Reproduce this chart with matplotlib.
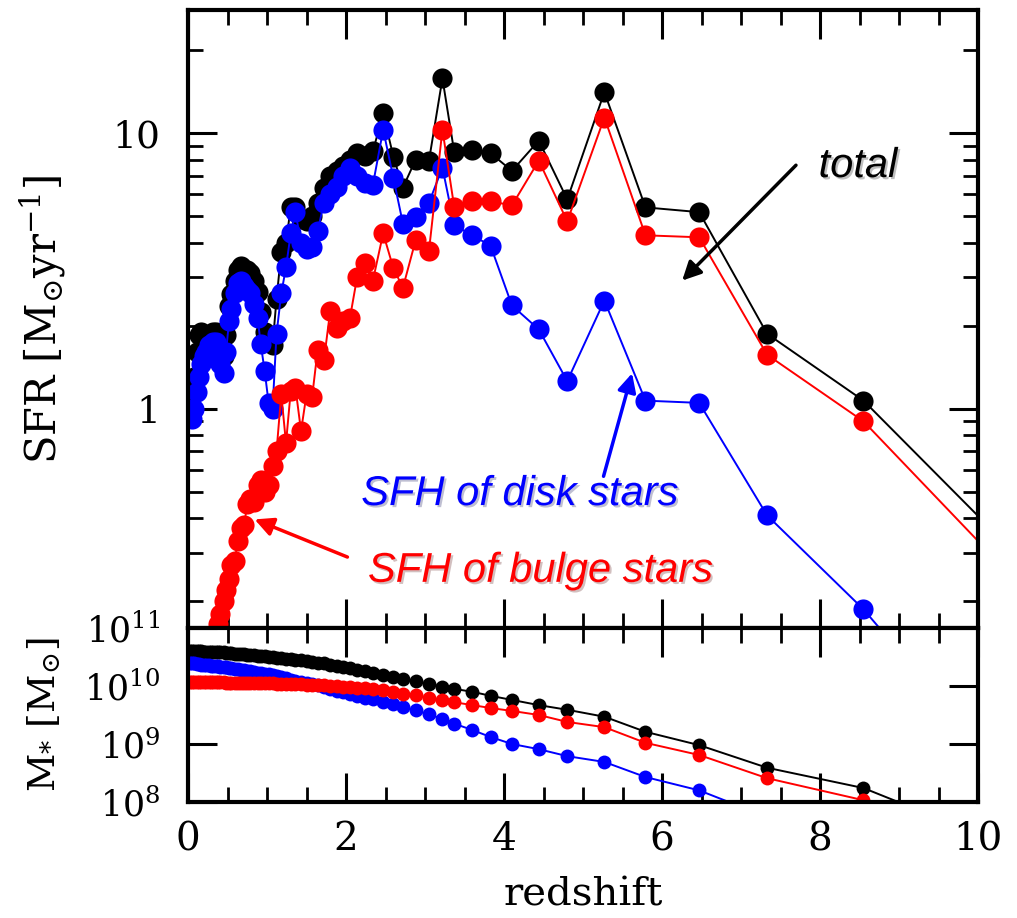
import numpy as np
import matplotlib
matplotlib.use("Agg")
import matplotlib.pyplot as plt
from matplotlib.ticker import FixedLocator, MultipleLocator, LogLocator, NullFormatter, FuncFormatter
import matplotlib.patheffects as pe

plt.rcParams['font.family'] = 'DejaVu Serif'
plt.rcParams['mathtext.fontset'] = 'dejavuserif'

# snapshot redshifts (first one lies beyond the plotted range)
redshift = [11.0, 8.55, 7.33, 6.47, 5.79, 5.27, 4.80, 4.44, 4.10, 3.83,
            3.60, 3.37, 3.22, 3.05, 2.88, 2.72, 2.60, 2.47, 2.34, 2.24,
            2.14, 2.05, 1.96, 1.88, 1.80, 1.72, 1.64, 1.57, 1.50, 1.43,
            1.36, 1.30, 1.24, 1.18, 1.12, 1.07, 1.02, 0.97, 0.92, 0.88,
            0.83, 0.79, 0.75, 0.71, 0.67, 0.63, 0.59, 0.55, 0.52, 0.48,
            0.45, 0.41, 0.38, 0.35, 0.32, 0.29, 0.26, 0.23, 0.20, 0.17,
            0.14, 0.11, 0.08, 0.05, 0.03, 0.0]

# star formation rates [Msun/yr]
sfr_total = [0.21, 1.07, 1.87, 5.17, 5.38, 14.1, 5.75, 9.4, 7.3, 8.46,
             8.67, 8.53, 15.8, 7.96, 8.0, 6.35, 8.2, 11.8, 8.6, 8.3,
             8.5, 8.0, 7.6, 7.3, 7.0, 6.3, 5.6, 5.0, 4.8, 4.9,
             5.4, 5.4, 4.0, 3.7, 2.5, 1.7, 1.75, 1.9, 2.25, 2.65,
             2.9, 3.1, 3.2, 3.2, 3.3, 3.2, 2.9, 2.6, 2.35, 1.85,
             1.55, 1.65, 1.8, 1.9, 1.9, 1.8, 1.85, 1.8, 1.85, 1.9,
             1.85, 1.6, 1.3, 1.15, 1.05, 1.1]
sfr_disk = [0.028, 0.187, 0.41, 1.05, 1.07, 2.47, 1.26, 1.94, 2.37, 3.9,
            4.26, 4.63, 7.5, 5.6, 4.95, 4.7, 6.86, 10.3, 6.5, 6.6,
            7.0, 7.5, 7.0, 6.4, 6.0, 5.6, 4.4, 3.85, 3.8, 4.0,
            5.16, 4.33, 3.26, 2.62, 1.87, 1.0, 1.05, 1.37, 1.72, 2.14,
            2.4, 2.62, 2.7, 2.8, 2.92, 2.85, 2.62, 2.3, 2.09, 1.6,
            1.35, 1.45, 1.6, 1.75, 1.75, 1.65, 1.7, 1.6, 1.55, 1.45,
            1.3, 1.15, 1.0, 0.92, 0.93, 1.0]
sfr_bulge = [0.166, 0.90, 1.57, 4.19, 4.26, 11.4, 4.79, 7.95, 5.47, 5.66,
             5.66, 5.38, 10.3, 3.75, 4.08, 2.75, 3.23, 4.33, 2.92, 3.37,
             3.0, 2.14, 2.09, 1.97, 2.27, 1.5, 1.63, 1.1, 1.13, 0.83,
             1.19, 1.16, 0.75, 1.13, 0.70, 0.62, 0.53, 0.5, 0.55, 0.53,
             0.46, 0.47, 0.45, 0.38, 0.37, 0.33, 0.28, 0.27, 0.24, 0.22,
             0.2, 0.18, 0.165, np.nan, np.nan, np.nan, np.nan, np.nan, np.nan, np.nan,
             np.nan, np.nan, np.nan, np.nan, np.nan, np.nan]

# log10 stellar mass [Msun]
logm_total = [6.9, 8.24, 8.59, 8.98, 9.21, 9.47, 9.59, 9.67, 9.76, 9.83,
              9.90, 9.95, 9.99, 10.04, 10.08, 10.12, 10.15, 10.19, 10.22, 10.25,
              10.28, 10.31, 10.33, 10.35, 10.37, 10.39, 10.40, 10.42, 10.43, 10.44,
              10.45, 10.46, 10.47, 10.48, 10.49, 10.50, 10.50, 10.51, 10.52, 10.52,
              10.53, 10.54, 10.54, 10.55, 10.55, 10.56, 10.56, 10.57, 10.57, 10.57,
              10.58, 10.58, 10.58, 10.58, 10.59, 10.59, 10.59, 10.59, 10.59, 10.60,
              10.60, 10.60, 10.60, 10.60, 10.60, 10.60]
logm_disk = [7.0, 7.4, 7.74, 8.20, 8.43, 8.69, 8.79, 8.91, 9.00, 9.12,
             9.24, 9.35, 9.43, 9.51, 9.58, 9.64, 9.69, 9.73, 9.77, 9.80,
             9.83, 9.86, 9.89, 9.92, 9.95, 9.98, 10.01, 10.03, 10.05, 10.07,
             10.09, 10.11, 10.13, 10.15, 10.17, 10.19, 10.20, 10.21, 10.22, 10.23,
             10.24, 10.25, 10.26, 10.27, 10.28, 10.29, 10.30, 10.31, 10.31, 10.32,
             10.33, 10.33, 10.34, 10.34, 10.35, 10.35, 10.36, 10.36, 10.37, 10.37,
             10.38, 10.38, 10.39, 10.39, 10.40, 10.40]
logm_bulge = [7.5, 8.03, 8.41, 8.81, 9.02, 9.29, 9.38, 9.50, 9.57, 9.62,
              9.67, 9.72, 9.76, 9.80, 9.84, 9.87, 9.90, 9.93, 9.95, 9.96,
              9.97, 9.98, 9.99, 10.00, 10.00, 10.01, 10.01, 10.02, 10.02, 10.03,
              10.03, 10.03, 10.04, 10.04, 10.04, 10.05, 10.05, 10.05, 10.05, 10.06,
              10.06, 10.06, 10.06, 10.06, 10.06, 10.06, 10.06, 10.06, 10.06, 10.06,
              10.07, 10.07, 10.07, 10.07, 10.07, 10.07, 10.07, 10.07, 10.07, 10.07,
              10.07, 10.07, 10.07, 10.07, 10.07, 10.07]

z = np.array(redshift)

fig = plt.figure(figsize=(10.17, 9.18), dpi=100)
ax1 = fig.add_axes([0.1849, 0.3159, 0.7768, 0.6732])
ax2 = fig.add_axes([0.1849, 0.1264, 0.7768, 0.1895])

for ax in (ax1, ax2):
    for s in ax.spines.values():
        s.set_linewidth(3)
    ax.tick_params(which='both', direction='in', top=True, right=True, colors='black')
    ax.tick_params(which='major', length=21, width=2.2)
    ax.tick_params(which='minor', length=11, width=2.0)
    ax.set_xlim(0, 10)
    ax.xaxis.set_major_locator(MultipleLocator(2))
    ax.xaxis.set_minor_locator(MultipleLocator(0.5))
    ax.set_yscale('log')

# top panel: SFR
ax1.plot(z, sfr_total, 'o-', color='black', ms=14.5, mew=0, lw=1.4)
ax1.plot(z, sfr_disk, 'o-', color='blue', ms=14.5, mew=0, lw=1.4)
ax1.plot(z, sfr_bulge, 'o-', color='red', ms=14.5, mew=0, lw=1.4)
ax1.set_ylim(0.16, 28)
ax1.yaxis.set_major_locator(FixedLocator([1, 10]))
ax1.yaxis.set_minor_locator(LogLocator(base=10, subs=np.arange(2, 10)))
ax1.yaxis.set_major_formatter(FuncFormatter(lambda v, p: '%d' % v))
ax1.yaxis.set_minor_formatter(NullFormatter())
ax1.tick_params(axis='y', labelsize=27, pad=20)
ax1.tick_params(axis='x', labelbottom=False)
ax1.set_ylabel(r'SFR [M$_{\odot}$yr$^{-1}$]', fontsize=30)
ax1.yaxis.set_label_coords(-0.152, 0.5)

# annotations
shadow = [pe.SimplePatchShadow(offset=(1.5, -1.5), alpha=0.25), pe.Normal()]
tfont = dict(family='Liberation Sans', style='italic', fontsize=30, ha='center', va='center')
ax1.text(8.48, 7.6, 'total', color='black', path_effects=shadow, **tfont)
ax1.text(4.2, 0.49, 'SFH of disk stars', color='blue', path_effects=shadow, **tfont)
ax1.text(4.46, 0.258, 'SFH of bulge stars', color='red', path_effects=shadow, **tfont)
ax1.annotate('', xy=(6.23, 2.87), xytext=(7.72, 7.78),
             arrowprops=dict(arrowstyle='-|>', color='black', lw=2.5, mutation_scale=28))
ax1.annotate('', xy=(5.63, 1.375), xytext=(5.25, 0.556),
             arrowprops=dict(arrowstyle='-|>', color='blue', lw=2.5, mutation_scale=28))
ax1.annotate('', xy=(0.81, 0.40), xytext=(2.05, 0.287),
             arrowprops=dict(arrowstyle='-|>', color='red', lw=2.5, mutation_scale=28))

# bottom panel: stellar mass
ax2.plot(z, 10 ** np.array(logm_total), 'o-', color='black', ms=10, mew=0, lw=1.4)
ax2.plot(z, 10 ** np.array(logm_disk), 'o-', color='blue', ms=10, mew=0, lw=1.4)
ax2.plot(z, 10 ** np.array(logm_bulge), 'o-', color='red', ms=10, mew=0, lw=1.4)
ax2.set_ylim(1e8, 1e11)
ax2.yaxis.set_major_locator(FixedLocator([1e8, 1e9, 1e10, 1e11]))
ax2.yaxis.set_minor_locator(LogLocator(base=10, subs=np.arange(2, 10)))
ax2.yaxis.set_major_formatter(FuncFormatter(lambda v, p: r'$10^{%d}$' % round(np.log10(v))))
ax2.yaxis.set_minor_formatter(NullFormatter())
ax2.tick_params(axis='y', labelsize=25, pad=20)
ax2.tick_params(axis='x', labelsize=28, pad=14)
ax2.xaxis.set_major_formatter(FuncFormatter(lambda v, p: '%d' % v))
ax2.set_ylabel(r'M$_{*}$ [M$_{\odot}$]', fontsize=27)
ax2.yaxis.set_label_coords(-0.158, 0.5)
ax2.set_xlabel('redshift', fontsize=29, va='baseline')
ax2.xaxis.set_label_coords(0.5, -0.598)

fig.savefig('out.png', dpi=100)
